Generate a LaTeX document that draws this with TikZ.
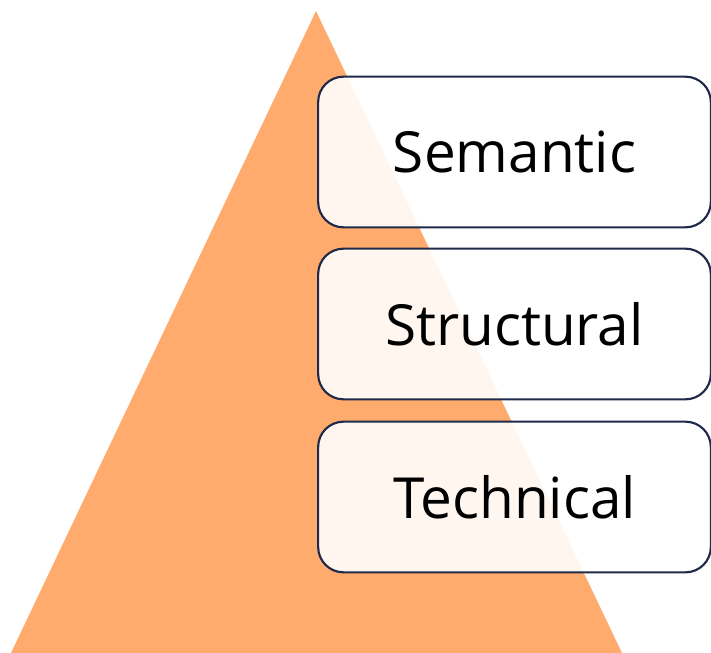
\documentclass[tikz,border=0pt]{standalone}
\usepackage{fontspec}
\setmainfont{Open Sans}
\definecolor{pyramid}{HTML}{FFAB6E}
\definecolor{boxline}{HTML}{1F2A48}

\begin{document}
\begin{tikzpicture}[x=0.75pt,y=-0.75pt,
    layer/.style={draw=boxline, line width=1.6pt, fill=white, fill opacity=0.9,
        text opacity=1, rounded corners=19pt, minimum width=294.5pt,
        minimum height=113pt, font=\fontsize{42.5}{50}\selectfont}]
    \useasboundingbox (0,0) rectangle (711,653);
    \coordinate (A) at (316,11);
    \coordinate (B) at (11,653);
    \coordinate (C) at (622,653);
    \fill[pyramid] (A) -- (B) -- (C) -- cycle;
    \node[layer] (S1) at (514.5,152) {Semantic};
    \node[layer] (S2) at (514.5,324) {Structural};
    \node[layer] (S3) at (514.5,497) {Technical};
\end{tikzpicture}
\end{document}
